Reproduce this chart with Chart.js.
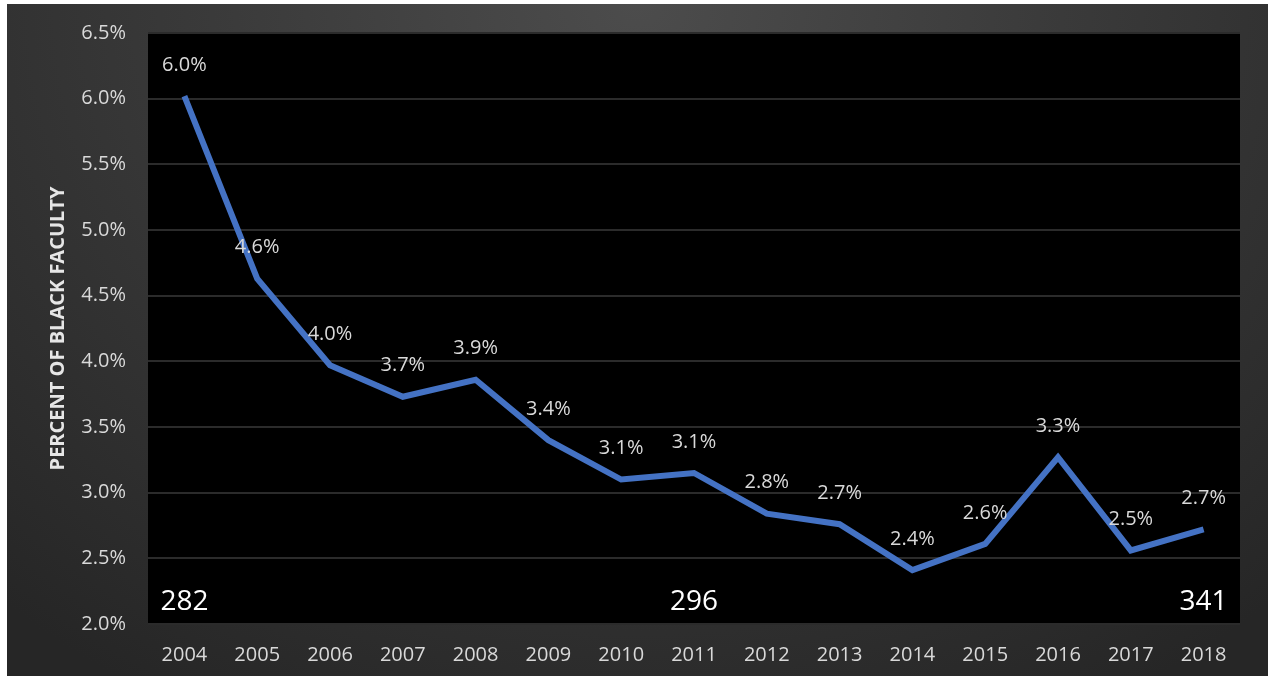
<!DOCTYPE html>
<html>
<head>
<meta charset="utf-8">
<script src="https://cdn.jsdelivr.net/npm/chart.js@4/dist/chart.umd.min.js"></script>
<style>
  html, body { margin: 0; padding: 0; background: #fff; }
  body { width: 1268px; height: 681px; position: relative; overflow: hidden; }
  #wrap {
    position: absolute; left: 7px; top: 4px; width: 1261px; height: 672px;
    background: radial-gradient(ellipse 75% 120% at 50% 0%, #4c4c4c 0%, #3a3a3a 45%, #262626 100%);
  }
  canvas { display: block; }
</style>
</head>
<body>
<div id="wrap"><canvas id="chart" width="1261" height="672"></canvas></div>
<script>
  const years = ["2004", "2005", "2006", "2007", "2008", "2009", "2010", "2011",
                 "2012", "2013", "2014", "2015", "2016", "2017", "2018"];
  const pctBlack = [6.02, 4.63, 3.97, 3.73, 3.86, 3.40, 3.10, 3.15,
                    2.84, 2.76, 2.41, 2.61, 3.27, 2.56, 2.72];
  const pctLabels = ["6.0%", "4.6%", "4.0%", "3.7%", "3.9%", "3.4%", "3.1%", "3.1%",
                     "2.8%", "2.7%", "2.4%", "2.6%", "3.3%", "2.5%", "2.7%"];
  const countYears = ["2004", "2011", "2018"];
  const countValues = ["282", "296", "341"];
  const countLevel = 2.17;

  const FONT = "'Open Sans', 'Noto Sans', sans-serif";

  const plotBg = {
    id: "plotBg",
    beforeDraw(chart) {
      const { ctx, chartArea: a } = chart;
      ctx.save();
      ctx.fillStyle = "#000";
      ctx.fillRect(a.left, a.top, a.right - a.left, a.bottom - a.top);
      ctx.restore();
    }
  };

  const labels = {
    id: "labels",
    afterDatasetsDraw(chart) {
      const { ctx } = chart;
      const xs = chart.scales.x, ys = chart.scales.y;
      ctx.save();
      ctx.textAlign = "center";
      ctx.textBaseline = "middle";
      ctx.fillStyle = "#d9d9d9";
      ctx.font = "20px " + FONT;
      chart.getDatasetMeta(0).data.forEach((pt, i) => {
        ctx.fillText(pctLabels[i], pt.x, pt.y - 31);
      });
      ctx.fillStyle = "#ffffff";
      ctx.font = "28px " + FONT;
      countYears.forEach((yr, i) => {
        ctx.fillText(countValues[i], xs.getPixelForValue(years.indexOf(yr)), ys.getPixelForValue(countLevel));
      });
      ctx.restore();
    }
  };

  new Chart(document.getElementById("chart"), {
    type: "line",
    data: {
      labels: years,
      datasets: [{
        data: pctBlack,
        borderColor: "#4472c4",
        borderWidth: 6,
        tension: 0,
        pointRadius: 0,
        borderCapStyle: "butt",
        borderJoinStyle: "miter",
        fill: false
      }]
    },
    options: {
      responsive: false,
      animation: false,
      layout: { padding: { left: 0, right: 28, top: 29, bottom: 0 } },
      plugins: { legend: { display: false }, tooltip: { enabled: false } },
      scales: {
        x: {
          offset: true,
          grid: { display: false, drawTicks: false },
          border: { display: false },
          ticks: { color: "#d9d9d9", font: { family: FONT, size: 20 }, padding: 19, maxRotation: 0 },
          afterFit(s) { s.height = 52; s.paddingLeft = 0; s.paddingRight = 0; }
        },
        y: {
          min: 2.0,
          max: 6.5,
          grid: { color: "#2b2b2b", lineWidth: 2, drawTicks: false },
          border: { display: false },
          ticks: {
            stepSize: 0.5,
            color: "#d9d9d9",
            font: { family: FONT, size: 20 },
            padding: 22,
            callback: (v) => v.toFixed(1) + "%"
          },
          title: {
            display: true,
            text: "PERCENT OF BLACK FACULTY",
            color: "#e6e6e6",
            font: { family: FONT, size: 20, weight: "bold" },
            padding: { top: 39, bottom: 0 }
          },
          afterFit(s) { s.width = 141; s.paddingTop = 0; s.paddingBottom = 0; }
        }
      }
    },
    plugins: [plotBg, labels]
  });
</script>
</body>
</html>
